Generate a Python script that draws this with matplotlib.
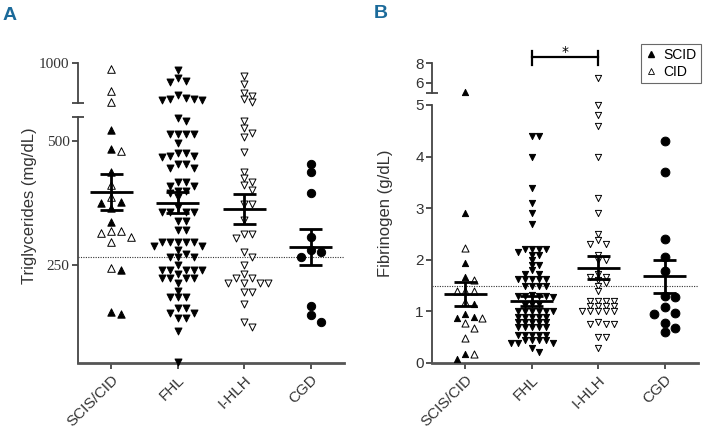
import numpy as np
import matplotlib
matplotlib.use('Agg')
import matplotlib.pyplot as plt
from matplotlib.lines import Line2D
from matplotlib.transforms import blended_transform_factory

groups = ['SCIS/CID', 'FHL', 'I-HLH', 'CGD']

# panel A: triglycerides (mg/dL). values above the break are read on the top segment
tg_scid = [522, 484, 437, 377, 375, 365, 337, 240, 155, 151]
tg_cid = [940, 720, 610, 480, 411, 387, 318, 318, 314, 306, 296, 244]
tg_fhl = [930, 850, 810, 820, 680, 640, 630, 630, 640, 650,
          540, 545, 514, 514, 514, 514, 496, 475, 470, 468, 470, 476,
          454, 446, 446, 454, 417, 409, 409, 417, 399, 395, 399, 387,
          367, 357, 357, 357, 357, 339, 339, 321, 321,
          296, 296, 296, 296, 296, 288, 288, 280, 272, 266, 266, 266, 250,
          240, 240, 240, 240, 240, 232, 224, 224, 224, 224, 214,
          198, 186, 186, 186, 163, 163, 153, 153, 143, 143, 117, 54]
tg_ihlh = [870, 790, 700, 670, 640, 610,
           540, 526, 516, 508, 478, 437, 425, 417, 411, 401, 373, 373, 341,
           312, 312, 304, 276, 266, 250, 232, 224, 224, 214, 214, 214, 214,
           196, 196, 171, 135, 125]
tg_cgd = [454, 437, 395, 306, 280, 276, 266, 167, 149, 135]
tg_mean = [397, 375, 363, 286]
tg_sem = [37, 21, 30, 36]
tg_cutoff = 266

# panel B: fibrinogen (g/dL)
fib_scid = [5.05, 2.9, 1.93, 1.66, 1.15, 0.95, 0.9, 0.87, 0.18, 0.08]
fib_cid = [2.23, 1.6, 1.4, 1.4, 1.4, 1.18, 0.87, 0.77, 0.67, 0.48, 0.18]
fib_fhl = [4.4, 4.4, 4.0, 3.4, 3.1, 2.9, 2.7, 2.2, 2.2, 2.2, 2.2, 2.15, 2.1, 2.1,
           2.0, 1.9, 1.9, 1.8, 1.72, 1.72, 1.62, 1.62, 1.62, 1.62, 1.62,
           1.5, 1.5, 1.5, 1.5, 1.32, 1.3, 1.3, 1.3, 1.3, 1.28, 1.15, 1.15, 1.12,
           1.0, 1.0, 1.0, 1.0, 1.0, 1.0, 0.9, 0.9, 0.9, 0.9, 0.9,
           0.8, 0.8, 0.8, 0.8, 0.8, 0.7, 0.7, 0.7, 0.7, 0.7,
           0.55, 0.55, 0.55, 0.55, 0.55, 0.45, 0.45, 0.45, 0.45,
           0.38, 0.38, 0.38, 0.3, 0.22]
fib_ihlh = [6.5, 5.0, 4.8, 4.6, 4.0, 3.2, 2.9, 2.5, 2.38, 2.3, 2.3, 2.1, 2.0, 2.0,
            1.72, 1.66, 1.66, 1.6, 1.55, 1.5, 1.4, 1.2, 1.2, 1.2, 1.2,
            1.1, 1.1, 1.1, 1.1, 1.0, 1.0, 1.0, 1.0, 1.0, 0.8, 0.75, 0.75, 0.75,
            0.5, 0.5, 0.3]
fib_cgd = [4.3, 3.7, 2.4, 2.05, 1.78, 1.3, 1.27, 1.08, 0.96, 0.94, 0.78, 0.68, 0.6]
fib_mean = [1.34, 1.2, 1.85, 1.68]
fib_sem = [0.23, 0.095, 0.22, 0.32]
fib_cutoff = 1.5

narrow = ['Liberation Sans Narrow', 'Liberation Sans', 'DejaVu Sans']
serif = ['Liberation Serif', 'DejaVu Serif']
axcol = '#444444'

fig = plt.figure(figsize=(7.08, 4.28), dpi=100)


def px_axes(l, t, r, b):
    return fig.add_axes([l / 708, (428 - b) / 428, (r - l) / 708, (b - t) / 428])


def swarm(ax, xc, vals, wx, hy):
    # beeswarm on a half-step grid, box-shaped collision (markers are triangles)
    vals = np.asarray(vals, float)
    if len(vals) == 0:
        return vals
    pts = ax.transData.transform(np.column_stack([np.full(len(vals), xc), vals]))
    xs = np.zeros(len(vals))
    placed = []
    for i in np.argsort(-pts[:, 1], kind='stable'):
        y = pts[i, 1]
        near = [a for a, b in placed if abs(b - y) < hy]
        k = 0
        while True:
            off = ((k + 1) // 2) * wx / 2 * (1 if k % 2 else -1)
            if all(abs(off - a) >= wx - 0.01 for a in near):
                break
            k += 1
        xs[i] = pts[i, 0] + off
        placed.append((off, y))
    return ax.transData.inverted().transform(np.column_stack([xs, pts[:, 1]]))[:, 0]


def style_axes(top, bot, ylab, tickfont):
    for ax in (top, bot):
        ax.set_xlim(-0.5, 3.5)
        for s in ('top', 'right'):
            ax.spines[s].set_visible(False)
        ax.spines['left'].set_color(axcol)
        ax.spines['left'].set_linewidth(1.3)
        ax.tick_params(axis='y', direction='out', length=4, width=1.3, color=axcol,
                       labelsize=11, labelcolor='#333333', pad=2, labelfontfamily=tickfont)
        ax.tick_params(axis='y', which='minor', direction='inout', length=8, width=1.3, color=axcol)
        ax.patch.set_alpha(0)
    top.spines['bottom'].set_visible(False)
    top.set_xticks([])
    bot.spines['bottom'].set_color('#555555')
    bot.spines['bottom'].set_linewidth(2)
    bot.set_xticks(range(4))
    bot.set_xticklabels(groups, rotation=45, ha='right', va='top', rotation_mode='anchor',
                        family=narrow, fontsize=11, color='#333333')
    bot.tick_params(axis='x', direction='out', length=4, width=1.3, color=axcol, pad=3)
    bot.set_ylabel(ylab, family=narrow, fontsize=12, color='#333333')


def plot_group(top, bot, split, xc, sets, wx, hy):
    # sets: list of (values, marker, filled, size)
    vals = np.concatenate([np.asarray(v, float) for v, *_ in sets])
    kind = np.concatenate([np.full(len(v), j) for j, (v, *_) in enumerate(sets)])
    for ax, mask in ((top, vals > split), (bot, vals <= split)):
        xs = swarm(ax, xc, vals[mask], wx, hy)
        for j, (v, marker, filled, size) in enumerate(sets):
            m = kind[mask] == j
            ax.scatter(xs[m], vals[mask][m], s=size, marker=marker,
                       facecolor='black' if filled else 'white', edgecolor='black',
                       linewidth=0.7, zorder=3, clip_on=False)


def mean_sem(ax, means, sems):
    for i, (m, s) in enumerate(zip(means, sems)):
        ax.hlines(m, i - 0.32, i + 0.32, color='black', lw=2, zorder=4)
        ax.hlines([m - s, m + s], i - 0.17, i + 0.17, color='black', lw=2, zorder=4)
        ax.vlines(i, m - s, m + s, color='black', lw=2, zorder=4)


# ---- panel A
a_top = px_axes(78, 63, 344, 103)
a_bot = px_axes(78, 117, 344, 363)
a_top.set_ylim(600, 1000)
a_top.set_yticks([1000])
a_top.set_yticks([600], minor=True)
a_bot.set_ylim(52.4, 548)
a_bot.set_yticks([250, 500])
a_bot.set_yticks([548], minor=True)
style_axes(a_top, a_bot, 'Triglycerides (mg/dL)', serif)
a_bot.yaxis.set_label_coords(-0.155, 0.64)
a_bot.axhline(tg_cutoff, color='#333333', lw=0.8, ls=(0, (1, 1.2)), zorder=1)

plot_group(a_top, a_bot, 560, 0, [(tg_scid, '^', True, 28), (tg_cid, '^', False, 30)], 10, 7)
plot_group(a_top, a_bot, 560, 1, [(tg_fhl, 'v', True, 25)], 8, 5.5)
plot_group(a_top, a_bot, 560, 2, [(tg_ihlh, 'v', False, 25)], 8, 5.5)
plot_group(a_top, a_bot, 560, 3, [(tg_cgd, 'o', True, 36)], 10, 8)
mean_sem(a_bot, tg_mean, tg_sem)

# ---- panel B
b_top = px_axes(432, 63, 698, 93)
b_bot = px_axes(432, 105, 698, 363)
b_top.set_ylim(5, 8)
b_top.set_yticks([6, 8])
b_top.set_yticks([5], minor=True)
b_bot.set_ylim(0, 5)
b_bot.set_yticks([0, 1, 2, 3, 4, 5])
b_bot.set_yticks([5], minor=True)
style_axes(b_top, b_bot, 'Fibrinogen (g/dL)', narrow)
b_bot.yaxis.set_label_coords(-0.145, 0.58)
b_bot.axhline(fib_cutoff, color='#333333', lw=0.8, ls=(0, (1, 1.2)), zorder=1)

plot_group(b_top, b_bot, 5.02, 0, [(fib_scid, '^', True, 20), (fib_cid, '^', False, 26)], 8.5, 6)
plot_group(b_top, b_bot, 5.02, 1, [(fib_fhl, 'v', True, 20)], 7, 4.5)
plot_group(b_top, b_bot, 5.02, 2, [(fib_ihlh, 'v', False, 20)], 8, 4.5)
plot_group(b_top, b_bot, 5.02, 3, [(fib_cgd, 'o', True, 40)], 10.5, 8)
mean_sem(b_bot, fib_mean, fib_sem)

# significance bracket FHL vs I-HLH
tr = blended_transform_factory(b_top.transData, fig.transFigure)
yb = 1 - 57 / 428
b_top.plot([1, 2], [yb, yb], color='black', lw=1.6, transform=tr, clip_on=False)
for xe in (1, 2):
    b_top.plot([xe, xe], [1 - 51 / 428, 1 - 65 / 428], color='black', lw=1.6,
               transform=tr, clip_on=False)
b_top.text(1.5, 1 - 52 / 428, '*', transform=tr, ha='center', va='center', fontsize=10)

# legend
handles = [Line2D([], [], marker='^', ls='', ms=4, mfc='black', mec='black'),
           Line2D([], [], marker='^', ls='', ms=4, mfc='white', mec='black', mew=0.6)]
leg = fig.legend(handles, ['SCID', 'CID'], loc='upper left',
                 bbox_to_anchor=(641 / 708, 1 - 44 / 428), frameon=True, fancybox=False,
                 edgecolor=axcol, borderpad=0.3, handlelength=0.8, handletextpad=0.5,
                 labelspacing=0.2, borderaxespad=0, prop={'family': narrow, 'size': 10})
leg.get_frame().set_linewidth(0.8)

# panel letters
fig.text(3 / 708, 1 - 16 / 428, 'A', color='#1b6a9a', fontsize=14, weight='bold',
         family=narrow, ha='left', va='center')
fig.text(374 / 708, 1 - 14 / 428, 'B', color='#1b6a9a', fontsize=14, weight='bold',
         family=narrow, ha='left', va='center')

fig.savefig('out.png', dpi=100, facecolor='white')
